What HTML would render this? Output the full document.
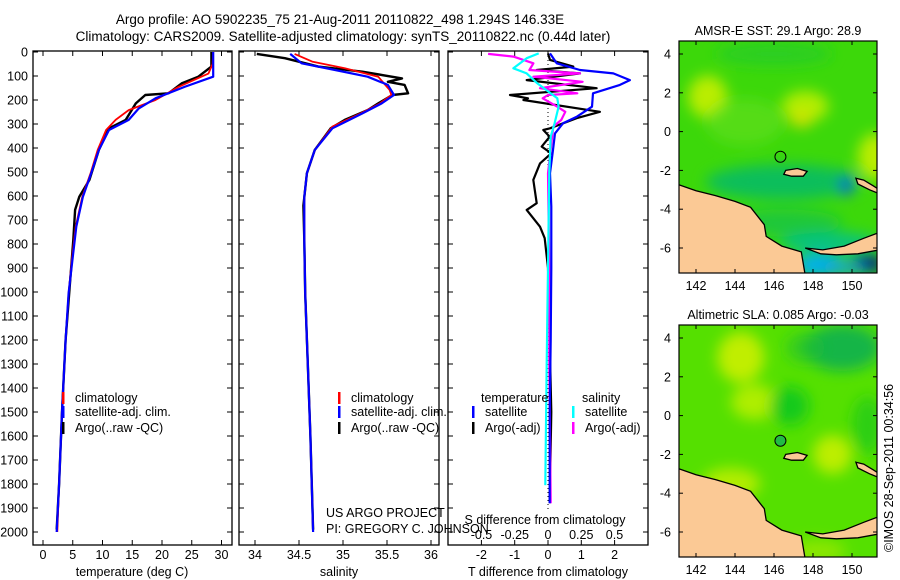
<!DOCTYPE html>
<html><head><meta charset="utf-8"><style>
html,body{margin:0;padding:0;background:#fff}
svg{display:block;font-family:"Liberation Sans",sans-serif}
text{font-size:12.5px;fill:#000}
</style></head><body>
<svg id="fig" width="900" height="580" viewBox="0 0 900 580">
<defs>
<clipPath id="cm1"><rect x="679" y="41" width="198" height="232"/></clipPath>
<clipPath id="cm2"><rect x="679" y="325" width="198" height="232"/></clipPath>
<filter id="bl" x="-50%" y="-50%" width="200%" height="200%"><feGaussianBlur stdDeviation="7"/></filter>
</defs>
<text x="340" y="24" text-anchor="middle" style="font-size:13.5px">Argo profile: AO 5902235_75 21-Aug-2011 20110822_498 1.294S 146.33E</text>
<text x="343" y="41" text-anchor="middle" style="font-size:13.5px">Climatology: CARS2009. Satellite-adjusted climatology: synTS_20110822.nc (0.44d later)</text>
<g id="p1"></g>
<g id="p2"></g>
<g id="p3"></g>
<g id="m1"></g>
<g id="m2"></g>
<text x="326" y="517">US ARGO PROJECT</text>
<text x="326" y="533">PI: GREGORY C. JOHNSON</text>
<text transform="translate(893,552) rotate(-90)">©IMOS 28-Sep-2011 00:34:56</text>
</svg>
<script>
// ---- data ----
const depthTicks=[0,100,200,300,400,500,600,700,800,900,1000,1100,1200,1300,1400,1500,1600,1700,1800,1900,2000];
const tTicks=[0,5,10,15,20,25,30];
const sTicks=[34,34.5,35,35.5,36];
const dTTicks=[-2,-1,0,1,2];
const dSTicks=[-0.5,-0.25,0,0.25,0.5];
const dSLabels=["-0.5","-0.25","0","0.25","0.5"];

const climTdepth=[0,50,90,145,200,242,283,325,408,505,603,728,853,1005,1200,1500,1800,2000];
const climT=[28.6,28.5,27.8,22.8,18.9,14.4,12.2,10.6,9.2,8.0,6.6,5.5,4.9,4.3,3.8,3.2,2.7,2.4];
const satTdepth=[0,103,144,193,235,283,325,408,505,603,728,853,1005,1200,1500,1800,2000];
const satT=[28.6,28.6,23.9,18.9,16.1,14.4,11.1,9.4,8.1,6.7,5.6,5.0,4.3,3.8,3.2,2.7,2.3];
const argoTdepth=[0,61,103,131,172,179,214,283,318,408,533,603,658,783,1005,1200,1500,1800,1990];
const argoT=[28.3,28.3,26.1,23.3,21.1,17.2,15.6,13.9,11.1,9.4,7.8,6.1,5.4,5.1,4.4,3.8,3.2,2.7,2.3];

const climSdepth=[8,40,68,103,158,179,214,256,311,408,505,603,783,1005,1300,1600,2000];
const climS=[34.45,34.65,35.02,35.40,35.53,35.55,35.42,35.20,34.88,34.68,34.59,34.56,34.56,34.57,34.60,34.63,34.66];
const satSdepth=[8,47,75,103,137,179,214,256,318,408,505,603,783,1005,1300,1600,2000];
const satS=[34.40,34.53,34.91,35.28,35.51,35.58,35.44,35.22,34.88,34.68,34.59,34.56,34.56,34.57,34.60,34.63,34.66];
const argoSdepth=[8,26,61,82,110,124,137,172,179,214,242,283,318,408,505,640,783,1005,1300,1600,1990];
const argoS=[34.02,34.34,34.72,35.22,35.67,35.51,35.70,35.74,35.56,35.40,35.28,35.02,34.86,34.68,34.59,34.55,34.56,34.57,34.60,34.63,34.66];

const dTsatDepth=[6,47,75,89,117,137,172,228,269,297,339,408,505,644,900,1200,1500,1880];
const dTsat=[0.06,0.26,0.96,1.96,2.46,2.16,1.35,1.32,0.87,0.45,0.21,0.15,0.06,0.1,0.1,0.08,0.05,0.05];
const dTargoDepth=[6,33,61,75,89,117,151,179,193,200,249,276,318,325,353,394,422,464,533,630,658,728,776,900,1200,1500,1880];
const dTargo=[0,0.06,0.76,-0.34,0.96,-0.64,1.46,-1.14,-0.6,-0.74,1.56,0.86,0.06,-0.14,0.05,-0.19,0.1,-0.24,-0.44,-0.34,-0.64,-0.24,-0.1,0,0.05,0.1,0.05];
const dSsatDepth=[6,26,68,89,131,193,228,297,353,500,900,1300,1805];
const dSsat=[-0.07,-0.16,-0.26,-0.16,-0.08,0.07,0.08,0.05,0.02,0.01,0,-0.01,-0.02];
const dSargoDepth=[8,19,47,75,89,103,124,151,172,179,193,228,249,283,311,505,900,1300,1880];
const dSargo=[-0.45,-0.26,-0.11,-0.14,0.24,-0.11,0.26,-0.06,0.22,0.0,-0.04,0.07,0.13,0.10,0.04,0,0.01,0.01,0.02];

const latTicks=[4,2,0,-2,-4,-6];
const lonTicks=[142,144,146,148,150];
const argoLon=146.33, argoLat=-1.294;

// ---- helpers ----
const NS="http://www.w3.org/2000/svg";
function mk(parent,tag,attrs,txt){const e=document.createElementNS(NS,tag);for(const k in attrs)e.setAttribute(k,attrs[k]);if(txt!==undefined)e.textContent=txt;parent.appendChild(e);return e;}
const top0=52, bot=545;
const yD=d=>top0+d*0.24;
function panelFrame(g,x0,x1){
  const r=mk(g,'rect',{x:x0,y:top0-1,width:x1-x0,height:bot-top0+1,fill:'none',stroke:'#000','stroke-width':1.3});
  
  
  depthTicks.forEach(d=>{
    mk(g,'line',{x1:x0,x2:x0+5,y1:yD(d),y2:yD(d),stroke:'#000'});
    mk(g,'line',{x1:x1-5,x2:x1,y1:yD(d),y2:yD(d),stroke:'#000'});
  });
}
function xTicks(g,vals,fx,labels,ly){
  vals.forEach((v,i)=>{
    const x=fx(v);
    mk(g,'line',{x1:x,x2:x,y1:bot,y2:bot-5,stroke:'#000'});
    mk(g,'line',{x1:x,x2:x,y1:top0-1,y2:top0+4,stroke:'#000'});
    if(labels){const t=mk(g,'text',{x:x,y:ly,'text-anchor':'middle'},labels[i]);
      
      }
  });
}
function line(g,xs,ds,fx,color,w,name){
  const pts=xs.map((v,i)=>fx(v).toFixed(1)+','+yD(ds[i]).toFixed(1)).join(' ');
  const p=mk(g,'polyline',{points:pts,fill:'none',stroke:color,'stroke-width':w,'stroke-linejoin':'round'});
  
  
}
function legend(g,x,y,color,label){
  mk(g,'rect',{x:x,y:y-10,width:2.5,height:12,fill:color});
  const t=mk(g,'text',{x:x+13,y:y},label);
  
  
}

// ---- panel 1: temperature ----
const g1=document.getElementById('p1');
const fT=t=>43+t*5.95;
panelFrame(g1,33,232);
depthTicks.forEach(d=>{const t=mk(g1,'text',{x:28,y:yD(d)+4.5,'text-anchor':'end'},String(d));
  
  });
xTicks(g1,tTicks,fT,tTicks.map(String),559);
{const t=mk(g1,'text',{x:132,y:576,'text-anchor':'middle'},'temperature (deg C)');

}
line(g1,argoT,argoTdepth,fT,'#000',2.4,'argo-temperature-line');
line(g1,climT,climTdepth,fT,'#f00',1.8,'climatology-temperature-line');
line(g1,satT,satTdepth,fT,'#00f',2.2,'satellite-temperature-line');
legend(g1,62,402,'#f00','climatology');
legend(g1,62,416,'#00f','satellite-adj. clim.');
legend(g1,62,432,'#000','Argo(..raw -QC)');

// ---- panel 2: salinity ----
const g2=document.getElementById('p2');
const fS=s=>255+(s-34)*88;
panelFrame(g2,239,439);
xTicks(g2,sTicks,fS,sTicks.map(String),559);
{const t=mk(g2,'text',{x:339,y:576,'text-anchor':'middle'},'salinity');

}
line(g2,argoS,argoSdepth,fS,'#000',2.4,'argo-salinity-line');
line(g2,climS,climSdepth,fS,'#f00',1.8,'climatology-salinity-line');
line(g2,satS,satSdepth,fS,'#00f',2.2,'satellite-salinity-line');
legend(g2,338,402,'#f00','climatology');
legend(g2,338,416,'#00f','satellite-adj. clim.');
legend(g2,338,432,'#000','Argo(..raw -QC)');

// ---- panel 3: differences ----
const g3=document.getElementById('p3');
const fdT=t=>548+t*33.3;
const fdS=s=>548+s*133;
panelFrame(g3,448,648);
xTicks(g3,dTTicks,fdT,dTTicks.map(String),559);
dSLabels.forEach((l,i)=>{const t=mk(g3,'text',{x:fdS(dSTicks[i]),y:539,'text-anchor':'middle'},l);
  
  });
{const t=mk(g3,'text',{x:545,y:524,'text-anchor':'middle'},'S difference from climatology');}
{const t=mk(g3,'text',{x:548,y:576,'text-anchor':'middle'},'T difference from climatology');}
mk(g3,'line',{x1:fdT(0),x2:fdT(0),y1:top0,y2:510,stroke:'#000','stroke-dasharray':'1,3'});
line(g3,dTargo,dTargoDepth,fdT,'#000',2.2,'argo-t-difference-line');
line(g3,dSargo,dSargoDepth,fdS,'#f0f',2.2,'argo-s-difference-line');
line(g3,dTsat,dTsatDepth,fdT,'#00f',2.2,'satellite-t-difference-line');
line(g3,dSsat,dSsatDepth,fdS,'#0ff',2.2,'satellite-s-difference-line');
{const t=mk(g3,'text',{x:481,y:402},'temperature');}
{const t=mk(g3,'text',{x:582,y:402},'salinity');}
legend(g3,472,416,'#00f','satellite');
legend(g3,472,432,'#000','Argo(-adj)');
legend(g3,572,416,'#0ff','satellite');
legend(g3,572,432,'#f0f','Argo(-adj)');

// ---- maps ----
function drawMap(gid,y0,title,clip,base,blobs,filled){
  const g=document.getElementById(gid);
  const fx=lon=>696+(lon-142)*19.5;
  const fy=lat=>y0+13+(4-lat)*19.4;
  const t=mk(g,'text',{x:778,y:y0-6,'text-anchor':'middle'},title);
  
  
  const c=mk(g,'g',{'clip-path':'url(#'+clip+')'});
  mk(c,'rect',{x:679,y:y0,width:198,height:232,fill:base});
  const bg=mk(c,'g',{filter:'url(#bl)'});
  blobs.forEach(b=>mk(bg,'ellipse',{cx:fx(b[0]),cy:fy(b[1]),rx:b[2]*19.5,ry:b[3]*19.4,fill:b[4],opacity:b[5]}));
  const land='#fbc995';
  const main=[[141,-2.7],[142,-3.05],[143,-3.3],[144,-3.6],[144.8,-3.9],[145.5,-4.8],[145.6,-5.4],[146.4,-5.9],[147.4,-6.2],[147.6,-7.4],[141,-7.4]];
  const nb=[[147.6,-6.0],[148.5,-6.1],[149.6,-5.9],[150.6,-5.5],[151.4,-5.2],[151.4,-6.1],[150.3,-6.3],[149.2,-6.35],[148.4,-6.3]];
  const manus=[[146.6,-2.0],[147.2,-1.9],[147.7,-2.05],[147.5,-2.3],[146.9,-2.3],[146.5,-2.2]];
  const ni=[[150.2,-2.4],[150.6,-2.5],[151.1,-2.8],[151.4,-3.0],[151.4,-3.2],[150.9,-3.0],[150.3,-2.7]];
  [[main,'mainland'],[nb,'new-britain'],[manus,'manus-island'],[ni,'new-ireland']].forEach(p=>{
    const poly=mk(c,'polygon',{points:p[0].map(q=>fx(q[0]).toFixed(1)+','+fy(q[1]).toFixed(1)).join(' '),fill:land,stroke:'#000','stroke-width':1.3});
    
    
  });
  const mkr=mk(g,'circle',{cx:fx(argoLon),cy:fy(argoLat),r:5.5,fill:filled?'#22bb44':'none',stroke:'#000','stroke-width':1});
  
  
  const fr=mk(g,'rect',{x:679,y:y0,width:198,height:232,fill:'none',stroke:'#000','stroke-width':1.2});
  
  
  latTicks.forEach(l=>{
    mk(g,'line',{x1:679,x2:683,y1:fy(l),y2:fy(l),stroke:'#000'});
    mk(g,'line',{x1:873,x2:877,y1:fy(l),y2:fy(l),stroke:'#000'});
    const tt=mk(g,'text',{x:671,y:fy(l)+4.5,'text-anchor':'end'},String(l));
    
    
  });
  lonTicks.forEach(l=>{
    mk(g,'line',{x1:fx(l),x2:fx(l),y1:y0,y2:y0+4,stroke:'#000'});
    mk(g,'line',{x1:fx(l),x2:fx(l),y1:y0+228,y2:y0+232,stroke:'#000'});
    const tt=mk(g,'text',{x:fx(l),y:y0+249,'text-anchor':'middle'},String(l));
    
    
  });
}
drawMap('m1',41,'AMSR-E SST: 29.1 Argo: 28.9','cm1','#3cd80a',[
  [142.6,1.8,1.0,1.1,'#c8f000',0.9],[147.6,1.3,1.2,0.8,'#c0f000',0.9],[147.4,0.6,0.6,0.4,'#e0e000',0.8],
  [151.2,-1.3,0.9,1.2,'#c8f000',0.9],[144.5,0.5,2,1.2,'#66e020',0.6],[146,4,3,0.6,'#20c830',0.6],
  [146.5,-2.6,4,0.9,'#00b870',0.8],[146.5,-4.7,3,0.7,'#10c050',0.7],[148.8,-5.7,2.5,0.5,'#00c090',0.9],
  [148.3,-6.9,1.3,0.6,'#00b0f0',1],[150.8,-6.8,0.8,0.5,'#001080',1],[149.7,-2.8,0.3,0.5,'#0050e0',1],[149.6,-7,1.2,0.4,'#10a0e0',0.8]
],false);
drawMap('m2',325,'Altimetric SLA: 0.085 Argo: -0.03','cm2','#55e000',[
  [144.3,3.0,1.2,1.3,'#ccf000',0.9],[145,0.7,1.2,0.9,'#b8f000',0.9],[149,-2,1,1,'#c8f000',0.9],
  [143.8,-3.5,1.5,0.8,'#bbee00',0.9],[146.8,0.5,1,1,'#10c820',0.9],[149.5,3.5,2,1.2,'#10b050',0.9],
  [147.6,3.5,1,0.8,'#20c030',0.6],[150.8,-0.5,0.8,1.5,'#20c820',0.7],[148.2,-7,1.5,0.6,'#99e800',0.8]
],true);
</script>
</body></html>
